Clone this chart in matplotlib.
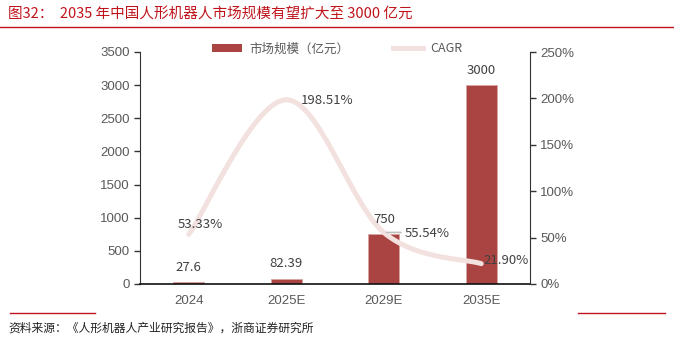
import numpy as np
import matplotlib
matplotlib.use('Agg')
import matplotlib.pyplot as plt
from matplotlib.lines import Line2D
from matplotlib.patches import Patch

plt.rcParams['font.family'] = ['Noto Sans CJK SC', 'DejaVu Sans']

years = ['2024', '2025E', '2029E', '2035E']
market = [27.6, 82.39, 750, 3000]          # 亿元
cagr = [53.33, 198.51, 55.54, 21.90]      # %
market_labels = ['27.6', '82.39', '750', '3000']
cagr_labels = ['53.33%', '198.51%', '55.54%', '21.90%']

bar_color = '#A94442'
line_color = '#F2E1DF'
text_gray = '#595959'
red = '#C0141C'
narrow = ['Liberation Sans Narrow', 'Liberation Sans', 'DejaVu Sans']


def smooth(xs, ys, n=40):
    # cardinal spline through the points, like a spreadsheet "smooth line"
    xs = np.asarray(xs, float)
    ys = np.asarray(ys, float)
    px = np.concatenate([[xs[0]], xs, [xs[-1]]])
    py = np.concatenate([[ys[0]], ys, [ys[-1]]])
    outx, outy = [], []
    for i in range(1, len(px) - 2):
        t = np.linspace(0, 1, n)
        t2, t3 = t * t, t * t * t
        for p, out in ((px, outx), (py, outy)):
            p0, p1, p2, p3 = p[i - 1], p[i], p[i + 1], p[i + 2]
            m1 = 0.5 * (p2 - p0)
            m2 = 0.5 * (p3 - p1)
            out.extend((2 * t3 - 3 * t2 + 1) * p1 + (t3 - 2 * t2 + t) * m1
                       + (-2 * t3 + 3 * t2) * p2 + (t3 - t2) * m2)
    return np.array(outx), np.array(outy)


fig = plt.figure(figsize=(6.74, 3.41), dpi=100)
ax = fig.add_axes([140 / 674, 57 / 341, 390 / 674, 232 / 341])
ax2 = ax.twinx()

x = np.arange(len(years))
ax.bar(x, market, width=0.32, color=bar_color, edgecolor='#D9A5A3', linewidth=0.6, zorder=2)
ax.set_xlim(-0.5, len(years) - 0.5)
ax.set_ylim(0, 3500)
ax.set_yticks(np.arange(0, 3501, 500))
ax.set_xticks(x)
ax.set_xticklabels(years)

sx, sy = smooth(x, cagr)
ax2.plot(sx, sy, color=line_color, lw=3.6, solid_capstyle='round', zorder=1)
ax2.set_ylim(0, 250)
ax2.set_yticks(np.arange(0, 251, 50))
ax2.set_yticklabels([f'{v}%' for v in range(0, 251, 50)])

for a in (ax, ax2):
    a.spines['top'].set_visible(False)
    a.tick_params(colors=text_gray, labelsize=9.5, length=4, width=1)
    for lab in a.get_yticklabels() + a.get_xticklabels():
        lab.set_family(narrow)
ax.spines['right'].set_visible(False)
ax2.spines['left'].set_visible(False)
ax2.spines['bottom'].set_visible(False)
ax.tick_params(axis='x', length=0, pad=8)
ax.spines['left'].set_color('#333333')
ax.spines['bottom'].set_color('#111111')
ax.spines['bottom'].set_linewidth(1.2)
ax2.spines['right'].set_color('#333333')
ax.tick_params(axis='y', color='#333333')
ax2.tick_params(axis='y', color='#333333')

for xi, v, lab in zip(x, market, market_labels):
    ax2.annotate(lab, (xi, v), xycoords=ax.transData, xytext=(0, 15), textcoords='offset pixels',
                 ha='center', va='center', color='#404040', fontsize=9.5, zorder=5)

cagr_offsets = [(12, 10, 'center'), (15, -1, 'left'), (21, -1, 'left'), (2, 3, 'left')]
for xi, v, lab, (dx, dy, ha) in zip(x, cagr, cagr_labels, cagr_offsets):
    ax2.annotate(lab, (xi, v), xytext=(dx, dy), textcoords='offset pixels',
                 ha=ha, va='center', color='#404040', fontsize=9.5, zorder=5)
# leader line for the 2029E label
ax2.annotate('', (x[2], cagr[2]), xytext=(20, 0), textcoords='offset pixels',
             arrowprops=dict(arrowstyle='-', color='#BFBFBF', lw=1.2))

handles = [Patch(facecolor=bar_color, edgecolor='none'),
           Line2D([0], [0], color=line_color, lw=3.6)]
fig.legend(handles, ['市场规模（亿元）', 'CAGR'], loc='center', bbox_to_anchor=(0.5, 1 - 49 / 341),
           ncol=2, frameon=False, fontsize=9, labelcolor=text_gray,
           handlelength=2.4, handleheight=0.6, columnspacing=3.5, handletextpad=0.6)

fig.text(8 / 674, 1 - 14 / 341, '图32：  2035 年中国人形机器人市场规模有望扩大至 3000 亿元',
         color=red, fontsize=10.5, ha='left', va='center')
fig.add_artist(Line2D([0, 1], [1 - 27 / 341] * 2, color=red, lw=1))
fig.add_artist(Line2D([10 / 674, 95 / 674], [1 - 313 / 341] * 2, color=red, lw=1))
fig.add_artist(Line2D([578 / 674, 665 / 674], [1 - 313 / 341] * 2, color=red, lw=1))
fig.text(8 / 674, 1 - 328 / 341, '资料来源：《人形机器人产业研究报告》，浙商证券研究所',
         color='#222222', fontsize=8.5, ha='left', va='center')

fig.savefig('out.png', dpi=100)
